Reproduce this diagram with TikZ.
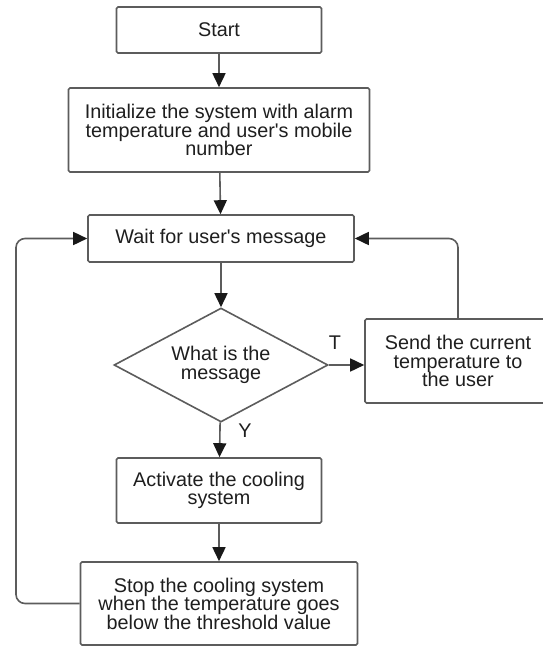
\documentclass[tikz,border=0pt]{standalone}
\usepackage{fontspec}
\setmainfont{Liberation Sans}
\usetikzlibrary{arrows.meta,shapes.geometric}
\definecolor{linegray}{HTML}{5C5C5C}
\definecolor{textgray}{HTML}{1E1E1E}
\begin{document}
\begin{tikzpicture} [x=1pt, y=-1pt, every text node part/.style={align=center}]
        \tikzset{
          box/.style={draw=linegray, line width=1.6pt, rounded corners=1.5pt, inner sep=0pt, text=textgray,
            font=\fontsize{19.8}{18.5}\selectfont},
          decision/.style={box, diamond, rounded corners=0pt, aspect=1.88},
          flow/.style={draw=linegray, line width=1.6pt, -{Triangle[length=14pt,width=13pt,color=black!90]}},
          lbl/.style={text=textgray, font=\fontsize{19.8}{18.5}\selectfont},
        }
        \useasboundingbox (0,0) rectangle (543,646);
        \node [box, minimum width=205pt, minimum height=46pt] (start) at (219,30) {Start};
        \node [box, minimum width=301pt, minimum height=84pt] (init) at (219,130) {Initialize the system with alarm \\ temperature and user\textquotesingle s mobile \\ number};
        \node [box, minimum width=266pt, minimum height=47pt] (wait) at (221,238.5) {Wait for user\textquotesingle s message};
        \node [decision, minimum width=214pt, minimum height=114pt] (msg) at (221,365) {What is the \\ message};
        \node [box, minimum width=186pt, minimum height=84pt] (send) at (458,361) {Send the current \\ temperature to \\ the user};
        \node [box, minimum width=205pt, minimum height=65pt] (act) at (219,490.5) {Activate the cooling \\ system};
        \node [box, minimum width=277pt, minimum height=83pt] (stop) at (219,603.5) {Stop the cooling system \\ when the temperature goes \\ below the threshold value};
        % 
        \node [lbl] (tlbl) at (335,343) {T};
        \node [lbl] (ylbl) at (245,431) {Y};
        \coordinate (lft) at (16,0);
        % 
        \draw [flow] (start) -- (init);
        \draw [flow] (init) -- (wait);
        \draw [flow] (wait) -- (msg);
        \draw [flow] (msg.east) -- (msg.east -| send.west);
        \draw [flow] (msg) -- (act);
        \draw [flow] (act) -- (stop);
        % 
        \draw [flow, rounded corners=9pt] (send.north) |- (wait.east);
        \draw [flow, rounded corners=9pt] (stop.west) -- (stop.west -| lft) -- (wait.west -| lft) -- (wait.west);
    \end{tikzpicture}
\end{document}
